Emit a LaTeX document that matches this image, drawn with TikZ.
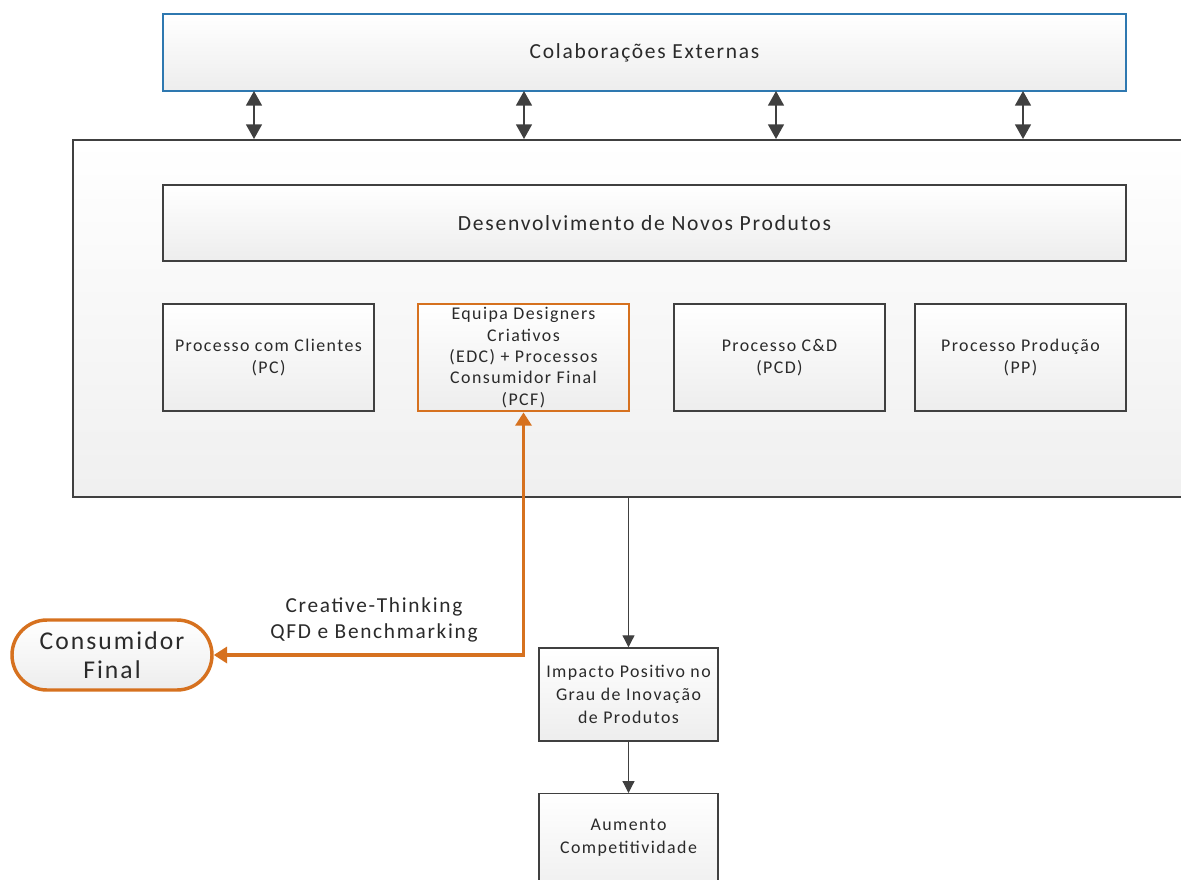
\documentclass[tikz,border=0pt]{standalone}
\usepackage{fontspec}
\setmainfont[LetterSpace=8]{Carlito}
\usetikzlibrary{arrows.meta,shapes.misc,positioning}
\definecolor{boxline}{HTML}{404040}
\definecolor{blueline}{HTML}{2E78B0}
\definecolor{orng}{HTML}{D6711F}
\definecolor{txt}{HTML}{2A2A2A}
\tikzset{
  grad/.style={top color=white,bottom color=black!7},
  pbox/.style={draw=boxline,line width=1.1pt,grad,text=txt,align=center,inner sep=0pt},
  dbl/.style={draw=boxline,line width=1.2pt,{Triangle[width=12pt,length=11pt]}-{Triangle[width=12pt,length=11pt]}},
  flow/.style={draw=boxline,line width=0.9pt,-{Triangle[width=9pt,length=9pt]}},
  oflow/.style={draw=orng,line width=2.9pt,{Triangle[width=12pt,length=10pt]}-{Triangle[width=12pt,length=10pt]}},
}
\begin{document}
\begin{tikzpicture}[x=0.75pt,y=-0.75pt]
\useasboundingbox (0,0) rectangle (1181,880);
% container
\node[pbox,line width=1.5pt,minimum width=1140*0.75pt,minimum height=357*0.75pt,anchor=north west,top color=white,bottom color=black!6] (cont) at (72,139) {};
% top box
\node[pbox,draw=blueline,line width=1pt,minimum width=963*0.75pt,minimum height=77*0.75pt,font=\fontsize{16.1}{19}\selectfont] (ext) at (644.5,52.5) {Colaborações Externas};
% DNP
\node[pbox,minimum width=963*0.75pt,minimum height=76*0.75pt,font=\fontsize{16.2}{19}\selectfont] (dnp) at (644.5,223) {Desenvolvimento de Novos Produtos};
% row
\tikzset{rowbox/.style={pbox,minimum width=211*0.75pt,minimum height=107*0.75pt,font=\fontsize{13.4}{16}\selectfont}}
\node[rowbox] (pc) at (268.5,357.5) {Processo com Clientes\\(PC)};
\node[rowbox,draw=orng,line width=2.1pt] (edc) at (523.5,357.5) {Equipa Designers\\Criativos\\(EDC) + Processos\\Consumidor Final\\(PCF)};
\node[rowbox] (pcd) at (779.5,357.5) {Processo C\&D\\(PCD)};
\node[rowbox] (pp) at (1020.5,357.5) {Processo Produção\\(PP)};
% arrows between ext and container
\foreach \x/\n in {254/a,524/b,776/c,1023/d}{
  \coordinate (t\n) at (\x,91);
  \coordinate (b\n) at (\x,139);
  \draw[dbl] (t\n) -- (b\n);
}
% consumidor final
\node[rounded rectangle,draw=orng,line width=2.6pt,top color=white,bottom color=black!7,minimum width=200*0.75pt,minimum height=70*0.75pt,inner sep=0pt,align=center,text=txt,font=\fontsize{19.2}{22}\selectfont] (cons) at (112,655) {Consumidor\\Final};
\draw[oflow] (cons.east) -| (edc.south);
\node[align=center,text=txt,font=\fontsize{16}{19.5}\selectfont] (lbl) at (374,620) {Creative-Thinking\\QFD e Benchmarking};
% impacto
\node[pbox,minimum width=179*0.75pt,minimum height=93*0.75pt,font=\fontsize{13.4}{17.3}\selectfont] (imp) at (628.5,694.5) {Impacto Positivo no\\Grau de Inovação\\de Produtos};
\node[pbox,minimum width=179*0.75pt,minimum height=107*0.75pt,anchor=north] (aum) at (628.5,793) {};
\node[text=txt,align=center,font=\fontsize{13.4}{17.3}\selectfont] (aumt) at (628.5,837.5) {Aumento\\Competitividade};
\coordinate (cb) at (628.5,496);
\draw[flow] (cb) -- (imp.north);
\draw[flow] (imp.south) -- (aum.north);
\end{tikzpicture}
\end{document}
